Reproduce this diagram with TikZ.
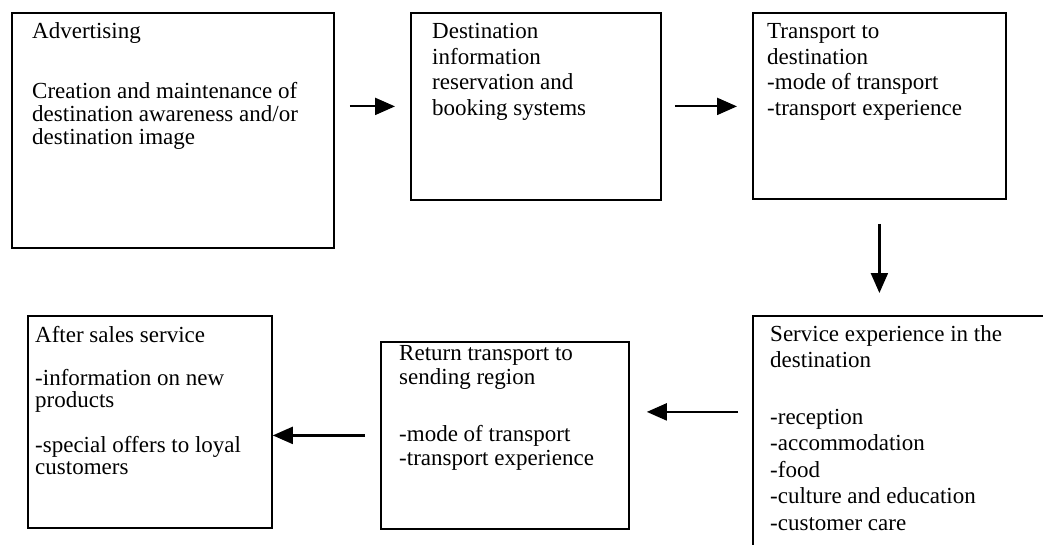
\documentclass[tikz,border=0pt]{standalone}
\usepackage{fontspec}
\setmainfont{Liberation Serif}
\usetikzlibrary{arrows.meta}
\newcommand\blines[1]{\begin{tabular}[t]{@{}l@{}}#1\end{tabular}}
\tikzset{
  box/.style={draw, line width=1.8pt, inner sep=0pt, anchor=north west},
  txt/.style={anchor=base west, inner sep=0pt, font=\fontsize{23}{22.5}\selectfont},
  txtwide/.style={txt, font=\fontsize{23}{25.5}\selectfont},
  txtmid/.style={txt, font=\fontsize{23}{24}\selectfont},
  txtbig/.style={txt, font=\fontsize{23}{26.5}\selectfont},
  arr/.style={line width=2.2pt, -{Triangle[length=20pt,width=17pt]}},
}
\begin{document}
\begin{tikzpicture}[x=1pt,y=-1pt]
\useasboundingbox (0,0) rectangle (1043,545);
\fill[white] (0,0) rectangle (1043,545);
\clip (0,0) rectangle (1043,545);
% boxes
\node[box, minimum width=322pt, minimum height=235pt] (b1) at (11,12) {};
\node[box, minimum width=250pt, minimum height=187pt] (b2) at (410,12) {};
\node[box, minimum width=253pt, minimum height=186pt] (b3) at (752,12) {};
\node[box, minimum width=320pt, minimum height=260pt] (b4) at (752,315) {};
\node[box, minimum width=248pt, minimum height=187pt] (b5) at (380,341) {};
\node[box, minimum width=244pt, minimum height=212pt] (b6) at (27,315) {};
% texts
\node[txt] (t1a) at (32,39) {\blines{Advertising}};
\node[txt] (t1b) at (32,99) {\blines{Creation and maintenance of\\destination awareness and/or\\destination image}};
\node[txtwide] (t2) at (432,39) {\blines{Destination\\information\\reservation and\\booking systems}};
\node[txtwide] (t3) at (767,39) {\blines{Transport to\\destination\\-mode of transport\\-transport experience}};
\node[txtbig] (t4a) at (770,341) {\blines{Service experience in the\\destination}};
\node[txtbig] (t4b) at (770,424) {\blines{-reception\\-accommodation\\-food\\-culture and education\\-customer care}};
\node[txtmid] (t5a) at (399,360) {\blines{Return transport to\\sending region}};
\node[txtmid] (t5b) at (399,441) {\blines{-mode of transport\\-transport experience}};
\node[txt] (t6a) at (35,342) {\blines{After sales service}};
\node[txt] (t6b) at (35,385) {\blines{-information on new\\products}};
\node[txt] (t6c) at (35,452) {\blines{-special offers to loyal\\customers}};
% connectors
\coordinate (a4) at ([yshift=23.5pt]b5.east);
\draw[arr, shorten <=15pt, shorten >=15pt] (b1.east |- b2.west) -- (b2.west);
\draw[arr, shorten <=13pt, shorten >=15pt] (b2.east) -- (b2.east -| b3.west);
\draw[arr, shorten <=24pt, shorten >=22pt] (b3.south) -- (b3.south |- b4.north);
\draw[arr, shorten <=14pt, shorten >=17pt] (b4.west |- a4) -- (a4);
\draw[arr, shorten <=15pt] (b5.west) -- (b5.west -| b6.east);
\end{tikzpicture}
\end{document}
